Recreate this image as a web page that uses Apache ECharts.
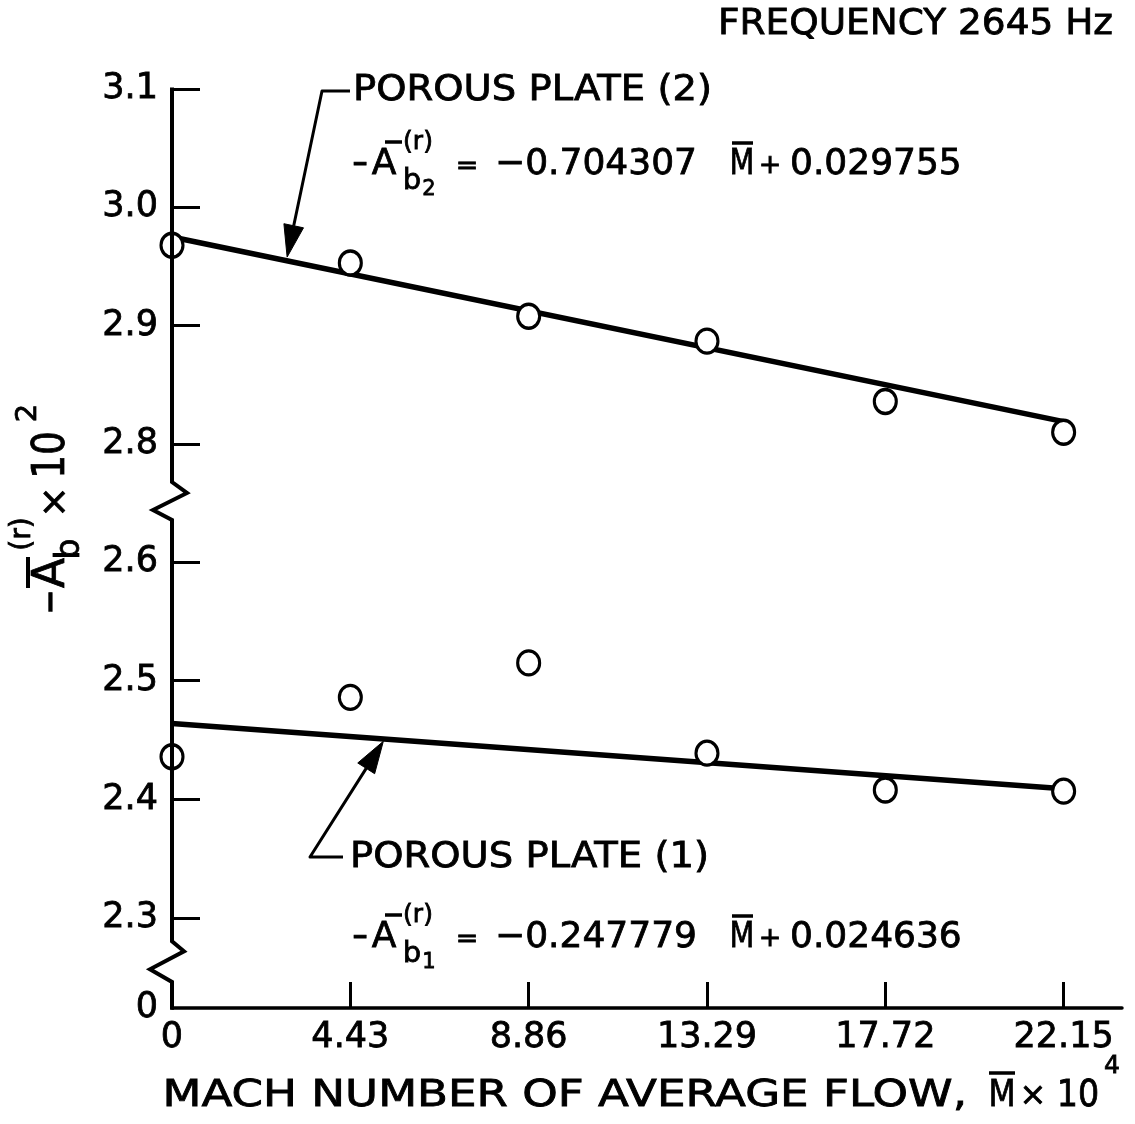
<!DOCTYPE html>
<html><head><meta charset="utf-8">
<script src="https://cdn.jsdelivr.net/npm/echarts@6/dist/echarts.min.js"></script>
<style>html,body{margin:0;padding:0;background:#fff}#c{width:1135px;height:1124px}</style>
</head><body><div id="c"></div>
<script>
// ---- data ----
const machX = [0, 4.43, 8.86, 13.29, 17.72, 22.15];
const plate2 = [2.968, 2.953, 2.908, 2.887, 2.836, 2.810];
const plate1 = [2.436, 2.486, 2.515, 2.439, 2.408, 2.407];
const fit2X = [0, 22.15];
const fit2Y = [2.975, 2.819];
const fit1X = [0, 22.15];
const fit1Y = [2.464, 2.409];
const xTicks = [0, 4.43, 8.86, 13.29, 17.72, 22.15];
const yTicksTop = [2.8, 2.9, 3.0, 3.1];
const yTicksBottom = [2.3, 2.4, 2.5, 2.6];
const arrow2Tip = [2.86, 2.958];
const arrow1Tip = [5.25, 2.449];

const FONT = 'DejaVu Sans';
const BLACK = '#000';
const TOP_MIN = 2.768, TOP_MAX = 3.1;
const BOT_MIN = 2.2245, BOT_MAX = 2.6353;
const X_MAX = 23.6;

const chart = echarts.init(document.getElementById('c'), null, {renderer: 'canvas'});

const pairs = (xs, ys) => xs.map((x, i) => [x, ys[i]]);
const labelStyle = {color: BLACK, fontFamily: FONT, fontSize: 35, textBorderColor: BLACK, textBorderWidth: 0.8};

chart.setOption({
  backgroundColor: '#fff',
  animation: false,
  grid: [
    {left: 172, right: 13, top: 89, height: 393, outerBoundsMode: 'none'},
    {left: 172, right: 13, top: 520, height: 488, outerBoundsMode: 'none'}
  ],
  xAxis: [
    {gridIndex: 0, type: 'value', min: 0, max: X_MAX, show: false},
    {gridIndex: 1, type: 'value', min: 0, max: X_MAX,
     axisLine: {show: true, lineStyle: {color: BLACK, width: 3.5}},
     axisTick: {show: true, inside: true, length: 26, lineStyle: {color: BLACK, width: 3}, customValues: xTicks},
     axisLabel: Object.assign({customValues: xTicks, margin: 12, formatter: v => String(v)}, labelStyle),
     splitLine: {show: false}}
  ],
  yAxis: [
    {gridIndex: 0, type: 'value', min: TOP_MIN, max: TOP_MAX,
     axisLine: {show: false},
     axisTick: {show: true, inside: true, length: 28, lineStyle: {color: BLACK, width: 3}, customValues: yTicksTop},
     axisLabel: Object.assign({customValues: yTicksTop, margin: 14, formatter: v => v.toFixed(1)}, labelStyle),
     splitLine: {show: false}},
    {gridIndex: 1, type: 'value', min: BOT_MIN, max: BOT_MAX,
     axisLine: {show: false},
     axisTick: {show: true, inside: true, length: 28, lineStyle: {color: BLACK, width: 3}, customValues: yTicksBottom},
     axisLabel: Object.assign({customValues: [BOT_MIN].concat(yTicksBottom), margin: 14,
       formatter: v => (v < 2.25 ? '0' : v.toFixed(1))}, labelStyle),
     splitLine: {show: false}}
  ],
  series: [
    {type: 'line', xAxisIndex: 0, yAxisIndex: 0, data: pairs(fit2X, fit2Y), symbol: 'none',
     lineStyle: {color: BLACK, width: 5.5}, z: 2, silent: true},
    {type: 'scatter', xAxisIndex: 0, yAxisIndex: 0, data: pairs(machX, plate2), symbol: 'circle', symbolSize: [22, 24],
     itemStyle: {color: '#fff', borderColor: BLACK, borderWidth: 3.2, opacity: 1}, z: 3},
    {type: 'line', xAxisIndex: 1, yAxisIndex: 1, data: pairs(fit1X, fit1Y), symbol: 'none',
     lineStyle: {color: BLACK, width: 5.5}, z: 2, silent: true},
    {type: 'scatter', xAxisIndex: 1, yAxisIndex: 1, data: pairs(machX, plate1), symbol: 'circle', symbolSize: [22, 24],
     itemStyle: {color: '#fff', borderColor: BLACK, borderWidth: 3.2, opacity: 1}, z: 3}
  ]
});

// ---- decorations (broken axis line, arrows, texts) ----
const px = (gi, v) => chart.convertToPixel({gridIndex: gi}, v);
function txt(x, y, text, size, o) {
  o = o || {};
  const align = o.align || 'center';
  return {type: 'text', x: x, y: y, scaleX: o.sx || 1, z: 20,
    style: {text: text, fontSize: size, fontFamily: FONT, fill: BLACK,
      stroke: BLACK, lineWidth: o.lw == null ? 0.8 : o.lw,
      textAlign: align, align: align, textVerticalAlign: 'middle', verticalAlign: 'middle'}};
}
function bar(x1, y1, x2, y2, w) {
  return {type: 'line', z: 20, shape: {x1: x1, y1: y1, x2: x2, y2: y2}, style: {stroke: BLACK, lineWidth: w || 3}};
}
function arrow(pts, tip) {
  const prev = pts[pts.length - 1];
  const dx = tip[0] - prev[0], dy = tip[1] - prev[1];
  const L = Math.hypot(dx, dy), ux = dx / L, uy = dy / L;
  const hl = 32, hw = 10;
  const bx = tip[0] - ux * hl, by = tip[1] - uy * hl;
  return [
    {type: 'polyline', z: 20, shape: {points: pts.concat([[bx, by]])},
     style: {stroke: BLACK, lineWidth: 3, fill: null, lineJoin: 'round'}},
    {type: 'polygon', z: 20, shape: {points: [tip, [bx - uy * hw, by + ux * hw], [bx + uy * hw, by - ux * hw]]},
     style: {fill: BLACK, stroke: BLACK, lineWidth: 1}}
  ];
}

const x0 = px(0, [0, TOP_MAX])[0];
const yTop = px(0, [0, TOP_MAX])[1];
const zA = px(0, [0, TOP_MIN])[1];
const zB = px(1, [0, BOT_MAX])[1];
const yAxisBottom = px(1, [0, BOT_MIN])[1];
const zC = px(1, [0, 2.3])[1] + 23;
const zD = yAxisBottom - 26;

const yAxisLine = {type: 'polyline', z: 15, shape: {points: [
  [x0, yTop - 1.5], [x0, zA], [x0 + 15, zA + 11], [x0 - 19, zA + 28], [x0, zB],
  [x0, zC], [x0 + 12, zC + 10], [x0 - 22, zC + 28], [x0, zD], [x0, yAxisBottom + 1.75]
]}, style: {stroke: BLACK, lineWidth: 4, fill: null, lineJoin: 'miter'}};

const t2 = px(0, arrow2Tip), t1 = px(1, arrow1Tip);

function equation(cy, sub, coef, icpt) {
  const s = [];
  s.push(txt(360, cy + 1, '\u2212', 36, {sx: 0.55}));
  s.push(txt(384, cy, 'A', 36));
  s.push(bar(385, cy - 23, 402, cy - 23, 3.5));
  s.push(txt(418, cy - 23, '(r)', 25));
  s.push(txt(412, cy + 16, 'b', 29));
  s.push(txt(429, cy + 25, sub, 21));
  s.push(txt(467, cy + 2, '=', 27));
  s.push(txt(495, cy, coef, 36, {align: 'left'}));
  s.push(txt(742, cy, 'M', 36, {sx: 0.8}));
  s.push(bar(732, cy - 22, 753, cy - 22, 3.5));
  s.push(txt(770, cy + 1, '+', 27));
  s.push(txt(790, cy, icpt, 36, {align: 'left'}));
  return s;
}

const yTitle = {type: 'group', x: 70, y: 613, rotation: Math.PI / 2, children: [
  txt(11, -17, '\u2212', 40, {sx: 0.75}),
  txt(40, -17, 'A', 44),
  bar(25, -42, 56, -42, 4),
  txt(79, -47, '(r)', 28),
  txt(64, 0, 'b', 33),
  txt(111, -14, '\u00d7', 38),
  txt(158, -17, '10', 44, {sx: 0.85}),
  txt(200, -42, '2', 29)
]};

const xTitle = [
  txt(967, 1096, 'MACH NUMBER OF AVERAGE FLOW,', 37, {align: 'right', sx: 1.22}),
  txt(1002, 1096, 'M', 37, {sx: 0.85}),
  bar(989, 1073, 1015, 1073, 3.5),
  txt(1033, 1097, '\u00d7', 32),
  txt(1078, 1096, '10', 37, {sx: 0.9}),
  txt(1112, 1066, '4', 25)
];

const graphics = [yAxisLine]
  .concat(arrow([[350, 91], [322, 91]], t2))
  .concat(arrow([[343, 857], [310, 857]], t1))
  .concat([
    txt(1113, 25, 'FREQUENCY 2645 Hz', 36, {align: 'right', sx: 1.04}),
    txt(353, 91, 'POROUS PLATE (2)', 35, {align: 'left', sx: 1.1}),
    txt(350, 858, 'POROUS PLATE (1)', 35, {align: 'left', sx: 1.1}),
    yTitle
  ])
  .concat(xTitle)
  .concat(equation(165, '2', '\u22120.704307', '0.029755'))
  .concat(equation(938, '1', '\u22120.247779', '0.024636'));

chart.setOption({graphic: graphics});
</script>
</body></html>
